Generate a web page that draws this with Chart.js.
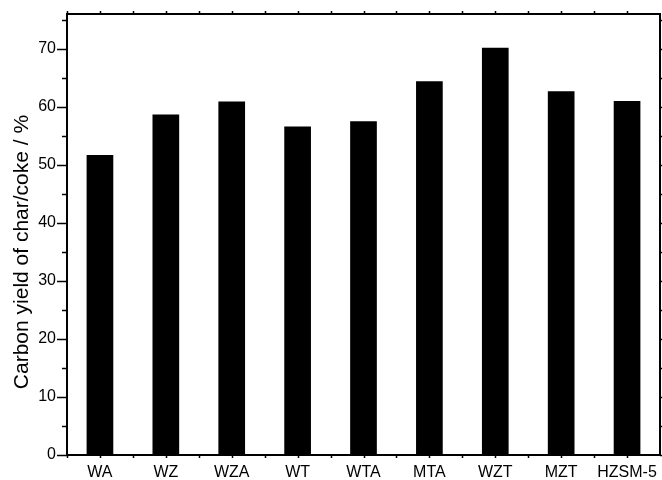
<!DOCTYPE html>
<html>
<head>
<meta charset="utf-8">
<script src="https://cdn.jsdelivr.net/npm/chart.js@4/dist/chart.umd.min.js"></script>
<style>
html,body{margin:0;padding:0;background:#fff;}
#wrap{width:662px;height:480px;position:relative;}
</style>
</head>
<body>
<div id="wrap"><canvas id="c" width="662" height="480"></canvas></div>
<script>
const categories = ['WA','WZ','WZA','WT','WTA','MTA','WZT','MZT','HZSM-5'];
const yields = [51.7, 58.7, 60.9, 56.6, 57.5, 64.4, 70.2, 62.7, 61.0];
const yTickValues = [0, 10, 20, 30, 40, 50, 60, 70];
const yAxisTitle = 'Carbon yield of char/coke / %';

const frame = {
  id: 'frame',
  afterDraw(chart) {
    const ctx = chart.ctx;
    const a = chart.chartArea;
    const xs = chart.scales.x, ys = chart.scales.y;
    ctx.save();
    ctx.strokeStyle = '#000';
    ctx.lineWidth = 2;
    ctx.strokeRect(a.left, a.top, a.right - a.left, a.bottom - a.top);
    ctx.lineWidth = 1.5;
    ctx.beginPath();
    for (let v = 0; v <= ys.max; v += 5) {
      const y = Math.round(ys.getPixelForValue(v)) + 0.5;
      const major = yTickValues.includes(v);
      ctx.moveTo(a.left - (major ? 10 : 5), y); ctx.lineTo(a.left, y);
      ctx.moveTo(a.right, y); ctx.lineTo(a.right + 3, y);
    }
    const half = (xs.getPixelForValue(1) - xs.getPixelForValue(0)) / 2;
    for (let i = 0; i < categories.length; i++) {
      const c = xs.getPixelForValue(i);
      [c - half, c].forEach(p => {
        const x = Math.round(p) + 0.5;
        ctx.moveTo(x, a.bottom); ctx.lineTo(x, a.bottom + 3);
        ctx.moveTo(x, a.top); ctx.lineTo(x, a.top - 3);
      });
    }
    ctx.stroke();
    ctx.fillStyle = '#000';
    ctx.font = '21px "Liberation Sans", Arial, sans-serif';
    ctx.textAlign = 'center';
    ctx.textBaseline = 'middle';
    ctx.translate(22, 252);
    ctx.rotate(-Math.PI / 2);
    ctx.fillText(yAxisTitle, 0, 0);
    ctx.restore();
  }
};

new Chart(document.getElementById('c'), {
  type: 'bar',
  data: {
    labels: categories,
    datasets: [{
      data: yields,
      backgroundColor: '#000',
      borderWidth: 0,
      barPercentage: 0.405,
      categoryPercentage: 1.0
    }]
  },
  options: {
    responsive: false,
    animation: false,
    events: [],
    layout: { padding: { top: 14, right: 2, left: 0, bottom: 0 } },
    plugins: { legend: { display: false }, tooltip: { enabled: false } },
    scales: {
      x: {
        grid: { display: false, drawTicks: false },
        border: { display: false },
        ticks: {
          color: '#000',
          padding: 8,
          maxRotation: 0,
          autoSkip: false,
          font: { family: '"Liberation Sans", Arial, sans-serif', size: 16 }
        },
        afterFit(s) { s.height = 25; s.paddingLeft = 0; s.paddingRight = 0; }
      },
      y: {
        min: 0,
        max: 76,
        grid: { display: false, drawTicks: false },
        border: { display: false },
        ticks: {
          stepSize: 10,
          color: '#000',
          padding: 11,
          font: { family: '"Liberation Sans", Arial, sans-serif', size: 16 },
          callback: v => (yTickValues.includes(v) ? v : '')
        },
        afterFit(s) { s.width = 67; s.paddingTop = 0; s.paddingBottom = 0; }
      }
    }
  },
  plugins: [frame]
});
</script>
</body>
</html>
